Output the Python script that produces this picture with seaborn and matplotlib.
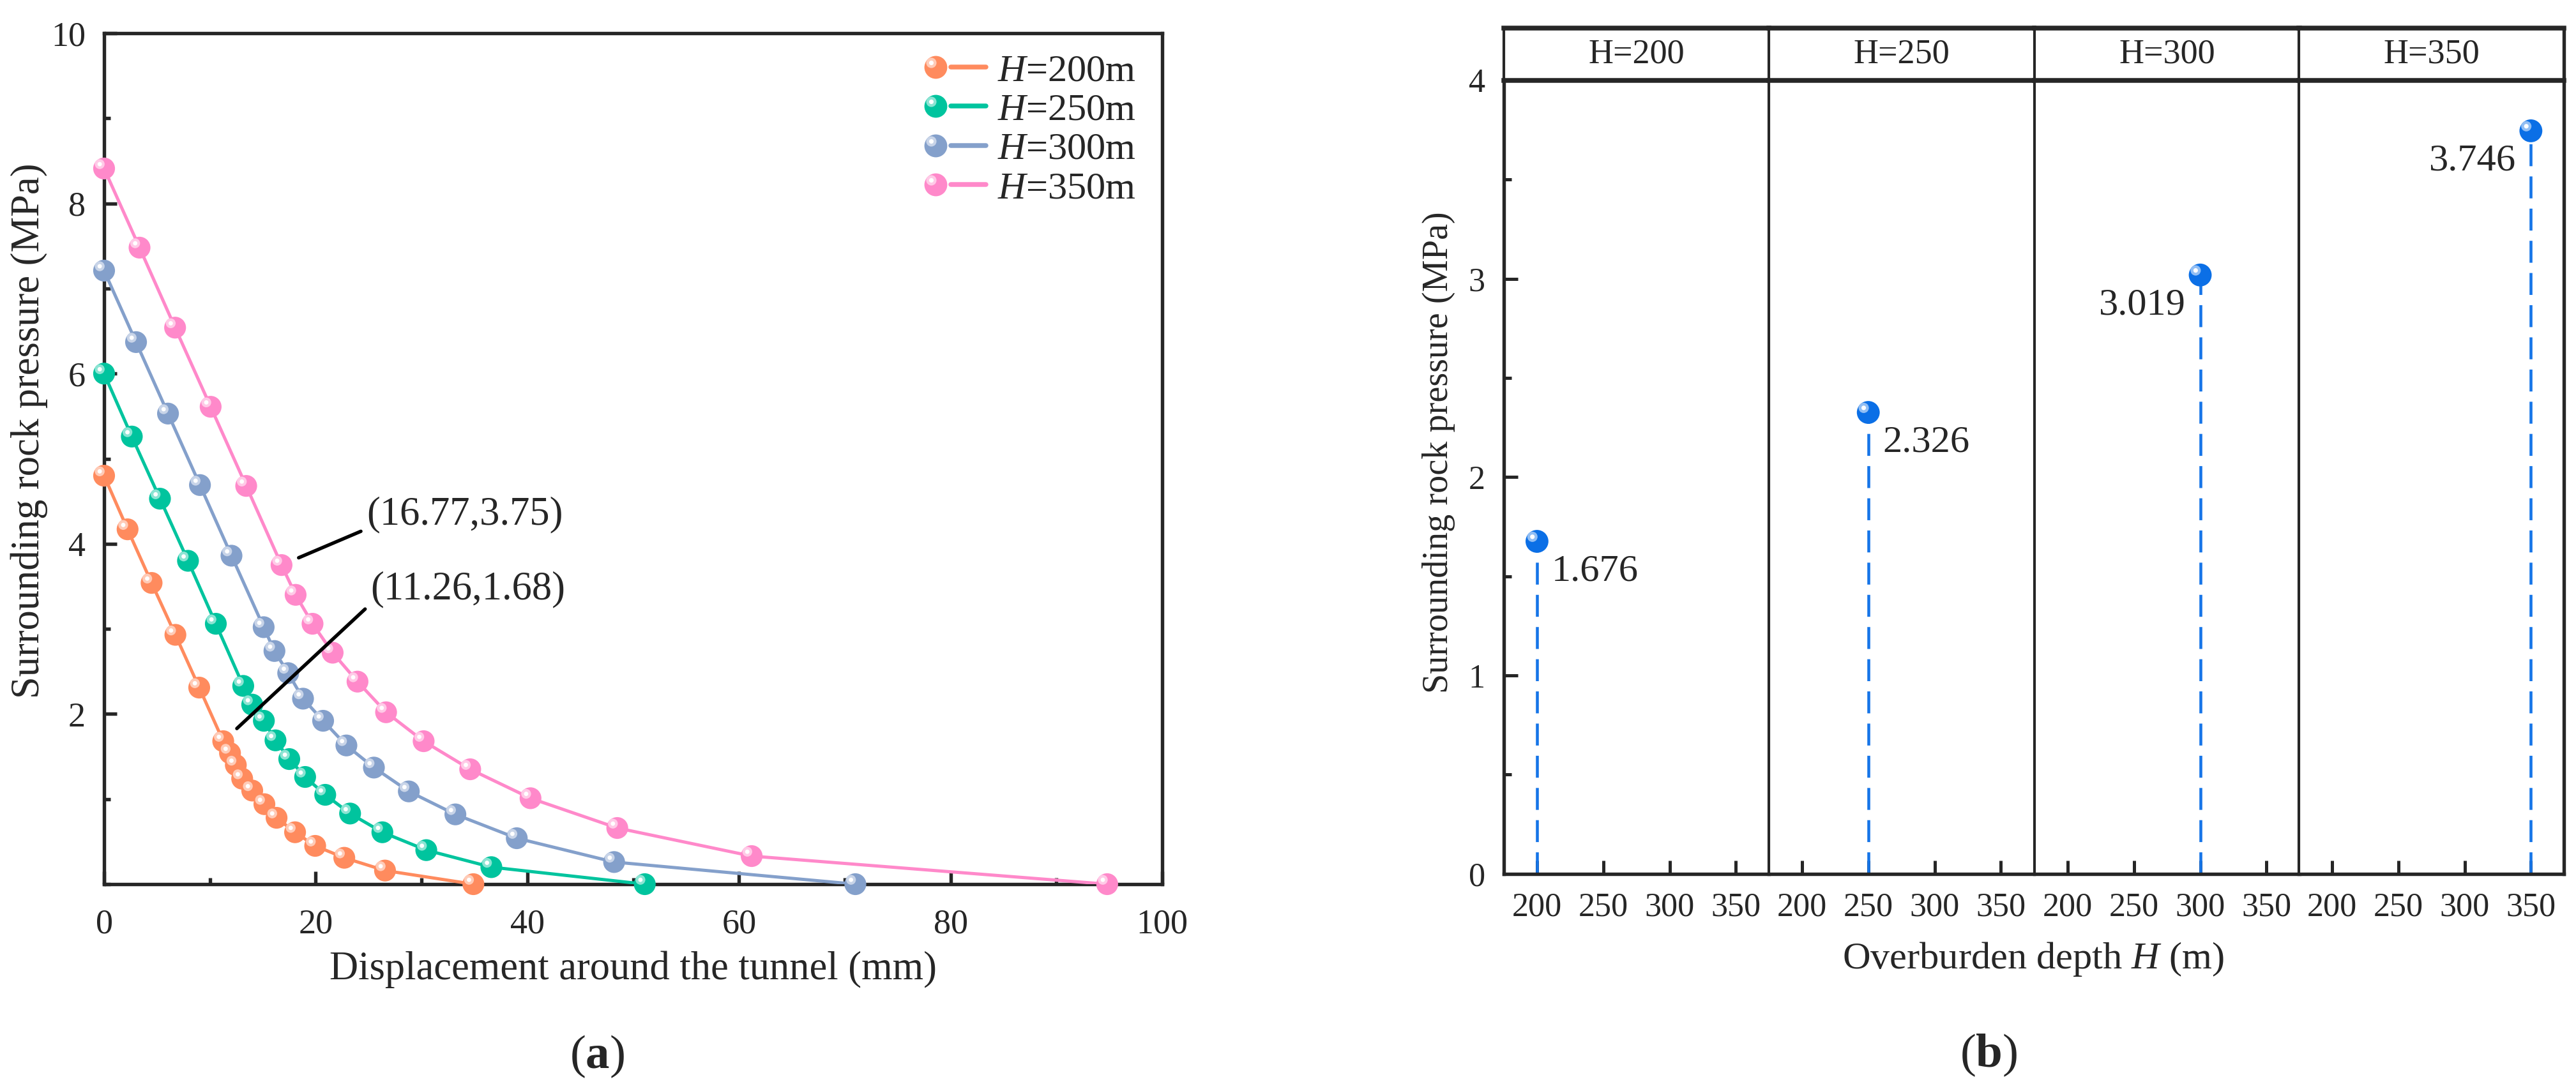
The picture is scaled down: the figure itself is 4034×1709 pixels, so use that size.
import numpy as np
import pandas as pd
import matplotlib
matplotlib.use("Agg")
import matplotlib.pyplot as plt
import matplotlib.transforms as mtransforms
from matplotlib.colors import to_rgb
from matplotlib.lines import Line2D
from matplotlib.legend_handler import HandlerBase
from matplotlib.ticker import MultipleLocator
import seaborn as sns

# ---- panel (a): pressure vs displacement, one curve per overburden depth ----
disp_200 = [0, 2.22, 4.49, 6.74, 8.99, 11.26, 11.9, 12.45, 13.05, 14.0, 15.15, 16.3, 18.05, 19.95, 22.7, 26.55, 34.9]
press_200 = [4.80, 4.17, 3.54, 2.93, 2.31, 1.68, 1.54, 1.40, 1.24, 1.10, 0.94, 0.78, 0.61, 0.45, 0.31, 0.16, 0.0]
disp_250 = [0, 2.62, 5.28, 7.93, 10.56, 13.15, 14.0, 15.1, 16.2, 17.5, 19.0, 20.9, 23.25, 26.3, 30.45, 36.6, 51.1]
press_250 = [6.00, 5.26, 4.53, 3.80, 3.06, 2.33, 2.11, 1.92, 1.69, 1.47, 1.26, 1.05, 0.83, 0.61, 0.40, 0.20, 0.0]
disp_300 = [0, 3.02, 6.04, 9.06, 12.04, 15.08, 16.1, 17.4, 18.8, 20.7, 22.9, 25.5, 28.8, 33.2, 39.0, 48.2, 71.0]
press_300 = [7.21, 6.37, 5.53, 4.69, 3.86, 3.02, 2.74, 2.48, 2.18, 1.92, 1.63, 1.37, 1.09, 0.82, 0.54, 0.26, 0.0]
disp_350 = [0, 3.35, 6.71, 10.07, 13.43, 16.77, 18.1, 19.7, 21.6, 23.95, 26.65, 30.2, 34.6, 40.3, 48.5, 61.2, 94.8]
press_350 = [8.41, 7.48, 6.54, 5.61, 4.68, 3.75, 3.40, 3.06, 2.72, 2.38, 2.02, 1.68, 1.35, 1.01, 0.66, 0.33, 0.0]
series_labels = ["$H$=200m", "$H$=250m", "$H$=300m", "$H$=350m"]
series_colors = ["#FF8B5E", "#00C49E", "#84A0CB", "#FF89CA"]
# annotated points (x, y, text)
note_x = [16.77, 11.26]
note_y = [3.75, 1.68]
note_text = ["(16.77,3.75)", "(11.26,1.68)"]

# ---- panel (b): peak pressure per overburden depth ----
depths = [200, 250, 300, 350]
peak_pressure = [1.676, 2.326, 3.019, 3.746]
strip_labels = ["H=200", "H=250", "H=300", "H=350"]
depth_ticks = [200, 250, 300, 350]

sns.set_style("ticks")
plt.rcParams["font.family"] = ["Liberation Serif", "DejaVu Serif"]
plt.rcParams["mathtext.fontset"] = "custom"
plt.rcParams["mathtext.rm"] = "Liberation Serif"
plt.rcParams["mathtext.it"] = "Liberation Serif:italic"
plt.rcParams["mathtext.bf"] = "Liberation Serif:bold"
plt.rcParams["axes.linewidth"] = 1.3


def lighten(c, amt=0.55):
    r, g, b = to_rgb(c)
    return (r + (1 - r) * amt, g + (1 - g) * amt, b + (1 - b) * amt)


def highlights(ax, x, y, color, size):
    # small glossy spot up-left of each ball
    off = mtransforms.offset_copy(ax.transData, fig=ax.figure, x=-size * 0.2, y=size * 0.2, units="points")
    ax.scatter(x, y, s=(size * 0.45) ** 2, color=lighten(color), edgecolors="none",
               transform=off, zorder=5, clip_on=False)
    ax.scatter(x, y, s=(size * 0.2) ** 2, color="white", edgecolors="none",
               transform=off, zorder=6, clip_on=False)


class BallLineHandler(HandlerBase):
    def create_artists(self, legend, orig_handle, xdescent, ydescent, width, height, fontsize, trans):
        c = orig_handle.get_color()
        ms = orig_handle.get_markersize()
        cy = height / 2 - ydescent
        x0 = -xdescent + ms / 2
        line = Line2D([x0 + ms / 2 + 1.5, width - xdescent], [cy, cy], color=c, lw=1.8, solid_capstyle="round")
        ball = Line2D([x0], [cy], ls="none", marker="o", ms=ms, mfc=c, mec="none")
        hl = Line2D([x0 - ms * 0.2], [cy + ms * 0.2], ls="none", marker="o", ms=ms * 0.45, mfc=lighten(c), mec="none")
        dot = Line2D([x0 - ms * 0.2], [cy + ms * 0.2], ls="none", marker="o", ms=ms * 0.2, mfc="white", mec="none")
        for a in (line, ball, hl, dot):
            a.set_transform(trans)
        return [line, ball, hl, dot]


W, H, DPI = 4034, 1709, 300
fig = plt.figure(figsize=(W / DPI, H / DPI), dpi=DPI)

# ================= panel (a) =================
ax = fig.add_axes([163 / W, 1 - 1385 / H, (1820 - 163) / W, (1385 - 52) / H])
xs = [disp_200, disp_250, disp_300, disp_350]
ys = [press_200, press_250, press_300, press_350]
dfa = pd.concat([pd.DataFrame({"disp": x, "press": y, "H": lab})
                 for x, y, lab in zip(xs, ys, series_labels)], ignore_index=True)
pal = dict(zip(series_labels, series_colors))
sns.lineplot(data=dfa, x="disp", y="press", hue="H", palette=pal, estimator=None, sort=False,
             lw=1.2, legend=False, ax=ax, zorder=3)
sns.scatterplot(data=dfa, x="disp", y="press", hue="H", palette=pal, s=8.2 ** 2,
                edgecolor="none", legend=False, ax=ax, zorder=4, clip_on=False)
for lab, col in zip(series_labels, series_colors):
    sub = dfa[dfa["H"] == lab]
    highlights(ax, sub["disp"], sub["press"], col, 8.2)

ax.set_xlim(0, 100)
ax.set_ylim(0, 10)
ax.set_xticks([0, 20, 40, 60, 80, 100])
ax.set_yticks([2, 4, 6, 8, 10])
ax.xaxis.set_minor_locator(MultipleLocator(10))
ax.yaxis.set_minor_locator(MultipleLocator(1))
ax.tick_params(which="both", direction="in", top=False, right=False, width=1.3, labelsize=13)
ax.tick_params(which="major", length=4.7)
ax.tick_params(which="minor", length=2.4)
ax.tick_params(axis="x", pad=9)
ax.tick_params(axis="y", pad=7)
for s in ax.spines.values():
    s.set_linewidth(1.3)
ax.set_xlabel("Displacement around the tunnel (mm)", fontsize=15)
ax.set_ylabel("Surrounding rock pressure (MPa)", fontsize=15)
ax.xaxis.set_label_coords(0.5, -0.1)
ax.xaxis.label.set_va("center")
ax.yaxis.set_label_coords(-0.0708, 0.533)
ax.yaxis.label.set_va("center")

handles = [Line2D([], [], color=c, marker="o", ms=8.6) for c in series_colors]
leg = ax.legend(handles, series_labels, handler_map={Line2D: BallLineHandler()},
                loc="upper left", bbox_to_anchor=(0.775, 0.976), frameon=False,
                fontsize=14.5, handlelength=1.6, handletextpad=0.3, labelspacing=0.1,
                borderpad=0, borderaxespad=0)

text_pos = [(24.8, 4.34), (25.2, 3.46)]
for x, y, t, (tx, ty) in zip(note_x, note_y, note_text, text_pos):
    ax.annotate(t, xy=(x, y), xytext=(tx, ty), fontsize=15, ha="left", va="center",
                arrowprops=dict(arrowstyle="-", color="black", lw=1.3, shrinkA=0, shrinkB=7,
                                relpos=(0, 0.12)), zorder=7)

# ================= panel (b) =================
dfb = pd.DataFrame({"depth": depths, "pressure": peak_pressure, "strip": strip_labels})
lefts = [2355, 2770, 3186, 3600]
fw = (4016 - 2355) / 4
bottom, top_plot, top_strip = 1368.7, 126, 44
blue = "#0B6FE6"
facet_axes = []
for i, (lab, x0) in enumerate(zip(strip_labels, lefts)):
    fa = fig.add_axes([x0 / W, 1 - bottom / H, fw / W, (bottom - top_plot) / H])
    sub = dfb[dfb["strip"] == lab]
    fa.vlines(sub["depth"], 0, sub["pressure"], colors="#1675E8", linestyles=(0, (7.5, 3.5)), lw=1.1, zorder=2)
    sns.scatterplot(data=sub, x="depth", y="pressure", color=blue, s=8.6 ** 2, edgecolor="none",
                    legend=False, ax=fa, zorder=4, clip_on=False)
    highlights(fa, sub["depth"], sub["pressure"], blue, 8.6)
    for d, p in zip(sub["depth"], sub["pressure"]):
        right_side = i < 2
        fa.annotate(f"{p:.3f}", xy=(d, p), xytext=(5.5 if right_side else -5.5, -11.5),
                    textcoords="offset points", ha="left" if right_side else "right",
                    va="center", fontsize=14.5)
    fa.set_xlim(175, 375)
    fa.set_ylim(0, 4)
    fa.set_xticks(depth_ticks)
    fa.set_xlabel("")
    fa.set_ylabel("")
    fa.tick_params(axis="x", direction="in", length=5, width=1.2, labelsize=12.5, pad=7, top=False)
    fa.spines["top"].set_visible(False)
    fa.spines["right"].set_visible(i == 3)
    fa.spines["bottom"].set_linewidth(1.3)
    fa.spines["left"].set_linewidth(1.3 if i == 0 else 1.0)
    fa.spines["right"].set_linewidth(1.3)
    if i == 0:
        fa.set_yticks([0, 1, 2, 3, 4])
        fa.yaxis.set_minor_locator(MultipleLocator(0.5))
        fa.tick_params(axis="y", which="major", direction="in", length=5.3, width=1.2, labelsize=12.5, pad=7)
        fa.tick_params(axis="y", which="minor", direction="in", length=2.8, width=1.2)
        fa.set_ylabel("Surrounding rock pressure (MPa)", fontsize=13.5)
        fa.yaxis.set_label_coords(-0.246, 0.531)
        fa.yaxis.label.set_va("center")
    else:
        fa.tick_params(axis="y", left=False, labelleft=False)
    facet_axes.append(fa)

    sa = fig.add_axes([x0 / W, 1 - top_plot / H, fw / W, (top_plot - top_strip) / H])
    sa.set_xticks([])
    sa.set_yticks([])
    sa.set_facecolor("white")
    sa.text(0.5, 0.5, lab, ha="center", va="center", fontsize=13, transform=sa.transAxes)
    sa.spines["top"].set_linewidth(1.8)
    sa.spines["bottom"].set_linewidth(1.8)
    sa.spines["left"].set_linewidth(1.0)
    sa.spines["right"].set_linewidth(1.0 if i < 3 else 1.3)
    sa.spines["left"].set_visible(True)
    sa.spines["right"].set_visible(i == 3)

fig.text(3184 / W, 1 - 1503 / H, "Overburden depth $H$ (m)", ha="center", va="center", fontsize=14.5)
fig.text(935 / W, 1 - 1655 / H, r"($\mathbf{a}$)", ha="center", va="center", fontsize=18)
fig.text(3114 / W, 1 - 1653 / H, r"($\mathbf{b}$)", ha="center", va="center", fontsize=18)

fig.savefig("out.png", dpi=DPI, facecolor="white")
